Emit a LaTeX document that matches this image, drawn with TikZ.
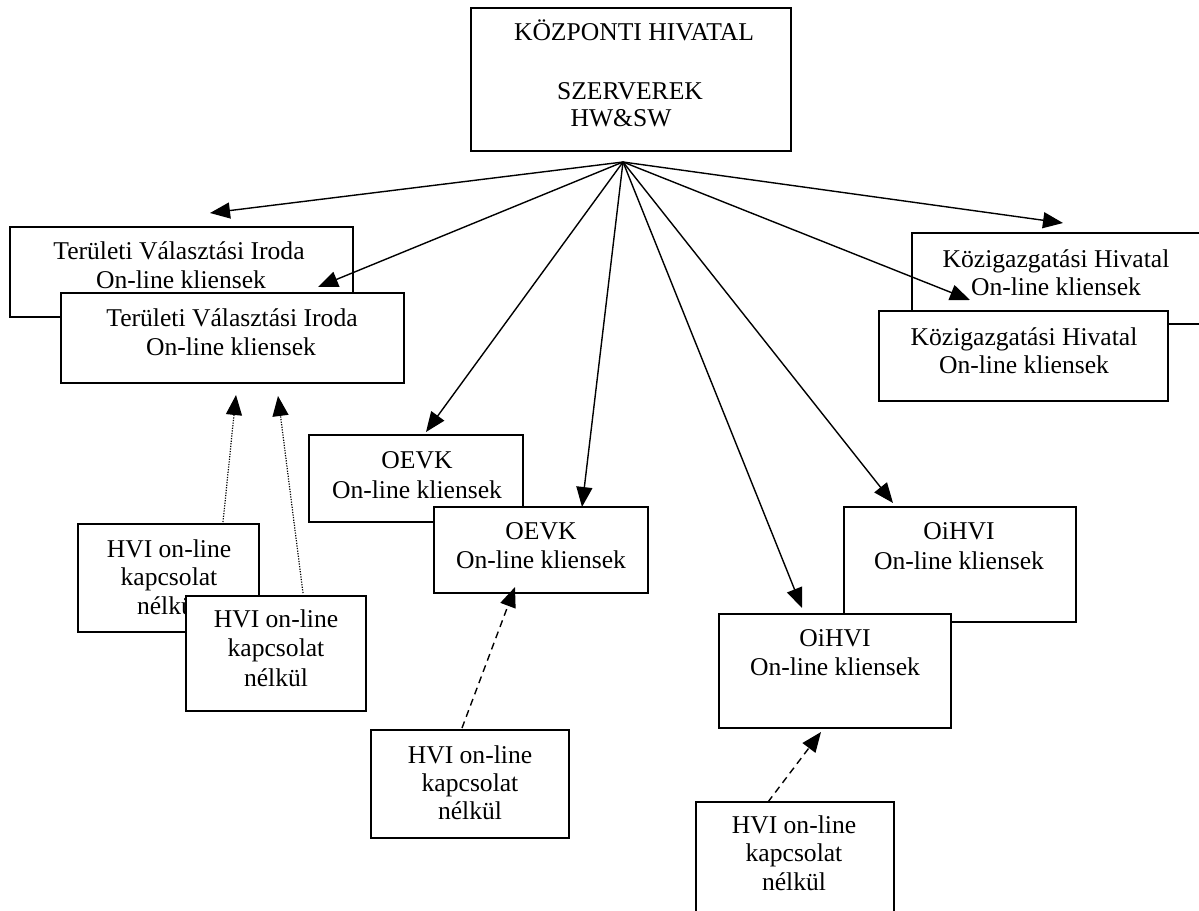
\documentclass[tikz,border=0pt]{standalone}
\usepackage{fontspec}
\setmainfont{Liberation Serif}
\usetikzlibrary{arrows.meta}
\newcommand{\tf}{\fontsize{25.6pt}{29pt}\selectfont}
\tikzset{
  box/.style={draw, line width=1.6pt, fill=white, inner sep=0pt, outer sep=0pt},
  ln/.style={inner sep=0pt, anchor=base, font=\tf},
  arr/.style={line width=1.4pt, -{Triangle[length=20pt,width=16pt]}},
  dotarr/.style={arr, line width=1.2pt, dash pattern=on 1.2pt off 1.4pt},
  dasharr/.style={arr, dash pattern=on 7pt off 5pt},
}
\begin{document}
\begin{tikzpicture}[x=1pt,y=-1pt]
\fill[white] (0,0) rectangle (1199,910);
\clip (0,0) rectangle (1199,910);

% central office
\node[box, anchor=north west, minimum width=320pt, minimum height=143pt] (top) at (471,8) {};
\node[ln] (top1) at (634,40) {KÖZPONTI HIVATAL};
\node[ln] (top2) at (630,99) {SZERVEREK};
\node[ln] (top3) at (621,126) {HW\&SW};

% TVI
\node[box, anchor=north west, minimum width=343pt, minimum height=90pt] (tviB) at (10,227) {};
\node[ln] (tviB1) at (179,259) {Területi Választási Iroda};
\node[ln] (tviB2) at (181,288) {On-line kliensek};
\node[box, anchor=north west, minimum width=343pt, minimum height=90pt] (tviF) at (61,293) {};
\node[ln] (tviF1) at (232,326) {Területi Választási Iroda};
\node[ln] (tviF2) at (231,355) {On-line kliensek};

% KH
\node[box, anchor=north west, minimum width=300pt, minimum height=91pt] (khB) at (912,233) {};
\node[ln] (khB1) at (1056,267) {Közigazgatási Hivatal};
\node[ln] (khB2) at (1056,295) {On-line kliensek};
\node[box, anchor=north west, minimum width=289pt, minimum height=90pt] (khF) at (879,311) {};
\node[ln] (khF1) at (1024,345) {Közigazgatási Hivatal};
\node[ln] (khF2) at (1024,373) {On-line kliensek};

% OEVK
\node[box, anchor=north west, minimum width=214pt, minimum height=87pt] (oevkB) at (309,435) {};
\node[ln] (oevkB1) at (417,468) {OEVK};
\node[ln] (oevkB2) at (417,498) {On-line kliensek};
\node[box, anchor=north west, minimum width=214pt, minimum height=86pt] (oevkF) at (434,507) {};
\node[ln] (oevkF1) at (541,539) {OEVK};
\node[ln] (oevkF2) at (541,568) {On-line kliensek};

% OiHVI
\node[box, anchor=north west, minimum width=232pt, minimum height=115pt] (oiB) at (844,507) {};
\node[ln] (oiB1) at (959,539) {OiHVI};
\node[ln] (oiB2) at (959,569) {On-line kliensek};
\node[box, anchor=north west, minimum width=232pt, minimum height=114pt] (oiF) at (719,614) {};
\node[ln] (oiF1) at (835,646) {OiHVI};
\node[ln] (oiF2) at (835,675) {On-line kliensek};

% HVI boxes
\node[box, anchor=north west, minimum width=181pt, minimum height=108pt] (hvi1) at (78,524) {};
\node[ln] (hvi1a) at (169,557) {HVI on-line};
\node[ln] (hvi1b) at (169,585) {kapcsolat};
\node[ln] (hvi1c) at (169,614) {nélkül};
\node[box, anchor=north west, minimum width=180pt, minimum height=115pt] (hvi2) at (186,596) {};
\node[ln] (hvi2a) at (276,627) {HVI on-line};
\node[ln] (hvi2b) at (276,656) {kapcsolat};
\node[ln] (hvi2c) at (276,686) {nélkül};
\node[box, anchor=north west, minimum width=198pt, minimum height=108pt] (hvi3) at (371,730) {};
\node[ln] (hvi3a) at (470,763) {HVI on-line};
\node[ln] (hvi3b) at (470,791) {kapcsolat};
\node[ln] (hvi3c) at (470,819) {nélkül};
\node[box, anchor=north west, minimum width=198pt, minimum height=120pt] (hvi4) at (696,802) {};
\node[ln] (hvi4a) at (794,833) {HVI on-line};
\node[ln] (hvi4b) at (794,861) {kapcsolat};
\node[ln] (hvi4c) at (794,890) {nélkül};

% connector points
\coordinate (hub) at (623,162);
\coordinate (tTviB) at (210,213);
\coordinate (tTviF) at (318,287);
\coordinate (tOevkB) at (426,432);
\coordinate (tOevkF) at (582,507);
\coordinate (tOiF) at (802,608);
\coordinate (tOiB) at (893,503);
\coordinate (tKhF) at (970,300);
\coordinate (tKhB) at (1063,223);
\coordinate (s1) at (223,522);
\coordinate (e1) at (236,395);
\coordinate (s2) at (303,593);
\coordinate (e2) at (278,396);
\coordinate (s3) at (462,728);
\coordinate (e3) at (515,587);
\coordinate (s4) at (768,802);
\coordinate (e4) at (821,732);

\draw[arr] (hub) -- (tTviB);
\draw[arr] (hub) -- (tTviF);
\draw[arr] (hub) -- (tOevkB);
\draw[arr] (hub) -- (tOevkF);
\draw[arr] (hub) -- (tOiF);
\draw[arr] (hub) -- (tOiB);
\draw[arr] (hub) -- (tKhF);
\draw[arr] (hub) -- (tKhB);

\draw[dotarr] (s1) -- (e1);
\draw[dotarr] (s2) -- (e2);
\draw[dasharr] (s3) -- (e3);
\draw[dasharr] (s4) -- (e4);
\end{tikzpicture}
\end{document}
